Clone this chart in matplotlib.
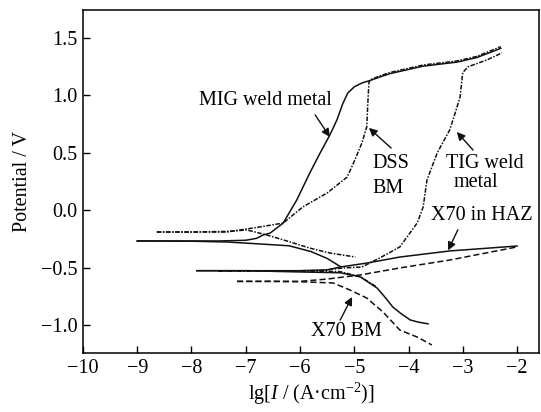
import matplotlib
matplotlib.use('Agg')
import matplotlib.pyplot as plt

# values (lg I, potential V)
mig_an_x = [-9.0, -8.0, -7.5, -7.0, -6.8, -6.68, -6.55, -6.31, -6.06, -5.82, -5.63, -5.45, -5.32, -5.21, -5.12, -5.0, -4.85, -4.71, -4.5, -4.34, -3.73, -3.11, -2.74, -2.30]
mig_an_y = [-0.268, -0.268, -0.268, -0.262, -0.245, -0.216, -0.199, -0.112, 0.089, 0.324, 0.498, 0.655, 0.786, 0.93, 1.02, 1.075, 1.11, 1.13, 1.165, 1.19, 1.255, 1.29, 1.33, 1.41]
mig_ca_x = [-9.0, -8.0, -7.35, -6.74, -6.2, -5.8, -5.5, -5.26]
mig_ca_y = [-0.268, -0.270, -0.277, -0.294, -0.31, -0.36, -0.42, -0.49]

dss_an_x = [-8.64, -8.0, -7.35, -6.74, -6.31, -5.95, -5.50, -5.13, -4.99, -4.86, -4.77, -4.75, -4.73, -4.71, -4.5, -4.34, -3.73, -3.11, -2.74, -2.30]
dss_an_y = [-0.19, -0.19, -0.19, -0.146, -0.112, 0.028, 0.150, 0.289, 0.437, 0.585, 0.725, 0.934, 1.108, 1.135, 1.175, 1.20, 1.265, 1.30, 1.34, 1.425]
dss_ca_x = [-8.64, -8.0, -7.35, -6.98, -6.61, -6.18, -5.82, -5.45, -4.98]
dss_ca_y = [-0.19, -0.19, -0.185, -0.172, -0.216, -0.277, -0.33, -0.373, -0.408]

tig_an_x = [-7.5, -6.5, -5.6, -5.21, -4.86, -4.53, -4.16, -3.84, -3.73, -3.66, -3.47, -3.24, -3.14, -3.05, -3.0, -2.90, -2.55, -2.28]
tig_an_y = [-0.53, -0.53, -0.525, -0.503, -0.495, -0.416, -0.32, -0.111, 0.028, 0.263, 0.50, 0.70, 0.847, 0.986, 1.20, 1.25, 1.31, 1.37]
tig_ca_x = [-7.5, -6.5, -5.6, -5.26, -4.89, -4.6]
tig_ca_y = [-0.53, -0.53, -0.532, -0.535, -0.58, -0.665]

haz_an_x = [-7.9, -7.0, -6.0, -5.5, -5.26, -4.76, -4.16, -3.24, -2.0]
haz_an_y = [-0.527, -0.527, -0.527, -0.52, -0.495, -0.46, -0.408, -0.355, -0.312]
haz_ca_x = [-7.9, -7.0, -6.0, -5.26, -4.89, -4.58, -4.43, -4.29, -4.14, -3.97, -3.82, -3.64]
haz_ca_y = [-0.527, -0.527, -0.538, -0.545, -0.58, -0.678, -0.76, -0.843, -0.90, -0.956, -0.975, -0.99]

bm_an_x = [-7.16, -6.5, -6.0, -5.5, -4.89, -4.16, -3.24, -2.0]
bm_an_y = [-0.62, -0.62, -0.62, -0.60, -0.564, -0.503, -0.434, -0.32]
bm_ca_x = [-7.16, -6.5, -6.0, -5.39, -5.08, -4.77, -4.47, -4.16, -3.84, -3.57]
bm_ca_y = [-0.62, -0.62, -0.623, -0.634, -0.695, -0.765, -0.887, -1.044, -1.105, -1.174]

plt.rcParams['font.family'] = ['Liberation Serif', 'DejaVu Serif']
plt.rcParams['mathtext.fontset'] = 'custom'
plt.rcParams['mathtext.rm'] = 'Liberation Serif'
plt.rcParams['mathtext.it'] = 'Liberation Serif:italic'

fig = plt.figure(figsize=(5.41, 4.12), dpi=100)
ax = fig.add_axes([0.1534, 0.1432, 0.843, 0.8325])

k = '#111111'
dd = (0, (3, 1, 1, 1))
ax.plot(mig_an_x, mig_an_y, color=k, lw=1.1)
ax.plot(mig_ca_x, mig_ca_y, color=k, lw=1.1)
ax.plot(dss_an_x, dss_an_y, color=k, lw=1.1, ls=dd)
ax.plot(dss_ca_x, dss_ca_y, color=k, lw=1.1, ls=dd)
ax.plot(tig_an_x, tig_an_y, color=k, lw=1.1, ls=dd)
ax.plot(tig_ca_x, tig_ca_y, color=k, lw=1.1, ls=dd)
ax.plot(haz_an_x, haz_an_y, color=k, lw=1.1)
ax.plot(haz_ca_x, haz_ca_y, color=k, lw=1.1)
ax.plot(bm_an_x, bm_an_y, color=k, lw=1.1, ls=(0, (4, 2)))
ax.plot(bm_ca_x, bm_ca_y, color=k, lw=1.1, ls=(0, (4, 2)))

fs = 14.5
arrow = dict(arrowstyle='-|>', color=k, lw=1.0, mutation_scale=12, shrinkA=0, shrinkB=0)
ax.text(-6.63, 0.96, 'MIG weld metal', fontsize=fs, ha='center', va='center')
ax.annotate('', xy=(-5.45, 0.638), xytext=(-5.72, 0.83), arrowprops=arrow)
ax.text(-4.67, 0.411, 'DSS', fontsize=fs, ha='left', va='center')
ax.text(-4.67, 0.193, 'BM', fontsize=fs, ha='left', va='center')
ax.annotate('', xy=(-4.73, 0.717), xytext=(-4.32, 0.541), arrowprops=arrow)
ax.text(-2.60, 0.411, 'TIG weld', fontsize=fs, ha='center', va='center')
ax.text(-2.75, 0.244, 'metal', fontsize=fs, ha='center', va='center')
ax.annotate('', xy=(-3.11, 0.681), xytext=(-2.81, 0.524), arrowprops=arrow)
ax.text(-2.645, -0.05, 'X70 in HAZ', fontsize=fs, ha='center', va='center')
ax.annotate('', xy=(-3.27, -0.35), xytext=(-3.09, -0.17), arrowprops=arrow)
ax.text(-5.15, -1.06, 'X70 BM', fontsize=fs, ha='center', va='center')
ax.annotate('', xy=(-5.04, -0.756), xytext=(-5.26, -0.957), arrowprops=arrow)

ax.set_xlim(-10, -1.594)
ax.set_ylim(-1.244, 1.744)
ax.set_xticks(range(-10, -1))
ax.set_yticks([-1.0, -0.5, 0.0, 0.5, 1.0, 1.5])
ax.set_yticklabels(['\u22121.0', '\u22120.5', '0.0', '0.5', '1.0', '1.5'])
ax.tick_params(direction='in', length=5, width=1, labelsize=fs, pad=4)
for s in ax.spines.values():
    s.set_linewidth(1.1)
ax.set_xlabel(r'lg[$I$ / (A·cm$^{-2}$)]', fontsize=fs, labelpad=2)
ax.set_ylabel('Potential / V', fontsize=fs, labelpad=6)

plt.savefig('out.png', dpi=100)
